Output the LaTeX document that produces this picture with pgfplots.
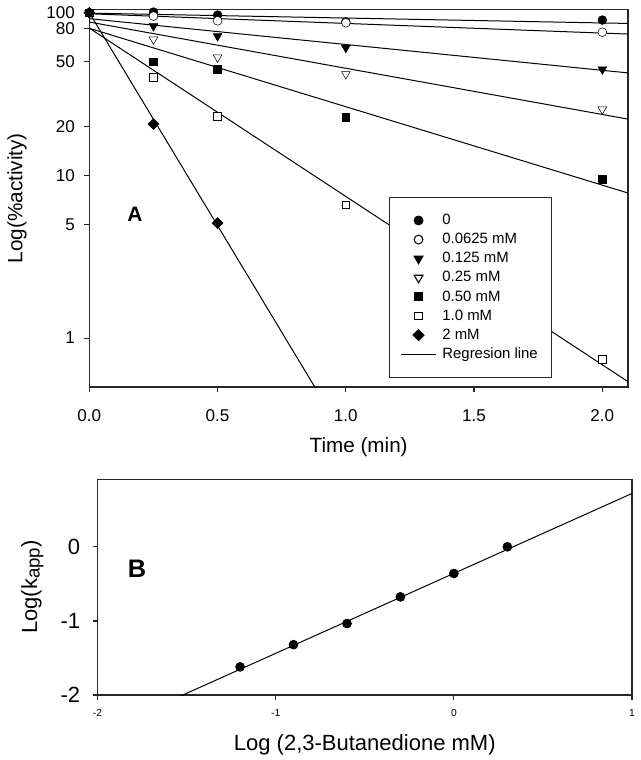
\documentclass[border=0pt]{standalone}
\usepackage{fontspec}
\setmainfont{Liberation Sans}
\usepackage{pgfplots}
\pgfplotsset{compat=1.18}
\begin{document}
\begin{tikzpicture}
\useasboundingbox (-67pt,7pt) rectangle (413.75pt,-563pt);
% ---------- panel A ----------
\begin{axis}[
  at={(0pt,0pt)}, anchor=north west,
  scale only axis, width=404pt, height=283.3pt,
  ymode=log, xmin=0, xmax=2.1, ymin=0.5, ymax=105,
  axis line style={line width=1.1pt, black!85},
  tick style={line width=0.9pt, black!85},
  tick align=outside, tick pos=left, major tick length=3.75pt,
  xtick={0,0.5,1,1.5,2}, xticklabels={0.0,0.5,1.0,1.5,2.0},
  ytick={1,5,10,20,50,80,100}, yticklabels={1,5,10,20,50,80,100},
  yminorticks=false,
  ticklabel style={font=\fontsize{12.8}{14}\selectfont},
  xticklabel style={yshift=-9.5pt},
  yticklabel style={xshift=-3.5pt},
  xlabel={Time (min)}, ylabel={Log(\%activity)},
  label style={font=\fontsize{15.5}{18}\selectfont},
  xlabel style={at={(axis description cs:0.5,-0.16)}, anchor=center},
  ylabel style={at={(axis description cs:-0.134,0.5)}, anchor=center},
  legend style={at={(axis description cs:0.556,0.503)}, anchor=north west,
    draw=black!85, line width=0.8pt, font=\fontsize{11.2}{13}\selectfont,
    row sep=1.0pt, inner xsep=8.5pt, inner ysep=10.5pt,
    /tikz/every odd column/.append style={column sep=2.5pt}},
  legend cell align=left,
  legend image code/.code={\draw[mark repeat=2,mark phase=2,#1] plot coordinates {(0pt,0pt)(13pt,0pt)(26pt,0pt)};},
]
% regression lines
\addplot[black, line width=0.75pt, forget plot] coordinates {(0,99.5) (2.1,86)};
\addplot[black, line width=0.75pt, forget plot] coordinates {(0,98.6) (2.1,74)};
\addplot[black, line width=0.75pt, forget plot] coordinates {(0,92) (2.1,42.7)};
\addplot[black, line width=0.75pt, forget plot] coordinates {(0,87.7) (2.1,22.2)};
\addplot[black, line width=0.75pt, forget plot] coordinates {(0,80.3) (2.1,7.8)};
\addplot[black, line width=0.75pt, forget plot] coordinates {(0,80.5) (2.1,0.54)};
\addplot[black, line width=0.75pt, forget plot] coordinates {(0,100) (0.95,0.326)};
% data
\addplot[only marks, black, mark=*, mark size=3.3pt] coordinates {
  (0,100) (0.25,101) (0.5,96.8) (1,88) (2,90.2)};
\addplot[only marks, black, mark=*, mark size=3.3pt, mark options={fill=white}] coordinates {
  (0,100) (0.25,95.4) (0.5,89.3) (1,86.8) (2,76)};
\addplot[only marks, black, mark=triangle*, mark size=3.8pt, mark options={rotate=180}] coordinates {
  (0,100) (0.25,82.8) (0.5,71.9) (1,61) (2,44.9)};
\addplot[only marks, black, mark=triangle*, mark size=3.8pt, mark options={rotate=180, fill=white}] coordinates {
  (0,100) (0.25,68.7) (0.5,53.2) (1,42) (2,25.5)};
\addplot[only marks, black, mark=square*, mark size=2.9pt] coordinates {
  (0,100) (0.25,50) (0.5,45.1) (1,22.8) (2,9.5)};
\addplot[only marks, black, mark=square*, mark size=2.9pt, mark options={fill=white}] coordinates {
  (0,100) (0.25,40.1) (0.5,23.2) (1,6.6) (2,0.74)};
\addplot[only marks, black, mark=square*, mark size=2.9pt, mark options={rotate=45}] coordinates {
  (0,100) (0.25,20.7) (0.5,5.1)};
\addlegendimage{black, line width=0.75pt}
\legend{0, 0.0625 mM, 0.125 mM, 0.25 mM, 0.50 mM, 1.0 mM, 2 mM, Regresion line}
\node[font=\fontsize{15.7}{16}\selectfont\bfseries] at (axis cs:0.178,5.74) {A};
\end{axis}
% ---------- panel B ----------
\begin{axis}[
  at={(6.15pt,-352.5pt)}, anchor=north west,
  scale only axis, width=400.9pt, height=161.8pt,
  xmin=-2, xmax=1, ymin=-2, ymax=0.91,
  axis line style={line width=1.1pt, black!85},
  tick style={line width=0.9pt, black!85},
  tick align=outside, tick pos=left, major tick length=3.5pt,
  xtick={-2,-1,0,1}, xticklabels={-2,-1,0,1},
  ytick={-2,-1,0}, yticklabels={-2,-1,0},
  xticklabel style={font=\fontsize{7.7}{9}\selectfont, yshift=-3.5pt},
  yticklabel style={font=\fontsize{16.5}{18}\selectfont, xshift=-6pt},
  xlabel={Log (2,3-Butanedione mM)},
  ylabel={Log(k\raisebox{-2pt}{\fontsize{14}{14}\selectfont app})},
  label style={font=\fontsize{16.5}{19}\selectfont},
  xlabel style={at={(axis description cs:0.5,-0.232)}, anchor=center},
  ylabel style={at={(axis description cs:-0.122,0.5)}, anchor=center},
]
\addplot[black, line width=0.75pt] coordinates {(-1.55,-2.03) (1,0.72)};
\addplot[only marks, black, mark=*, mark size=3.4pt] coordinates {
  (-1.2,-1.62) (-0.9,-1.32) (-0.6,-1.035) (-0.3,-0.675) (0,-0.36) (0.3,0)};
\node[font=\fontsize{19}{20}\selectfont\bfseries] at (axis cs:-1.778,-0.30) {B};
\end{axis}
\end{tikzpicture}
\end{document}
